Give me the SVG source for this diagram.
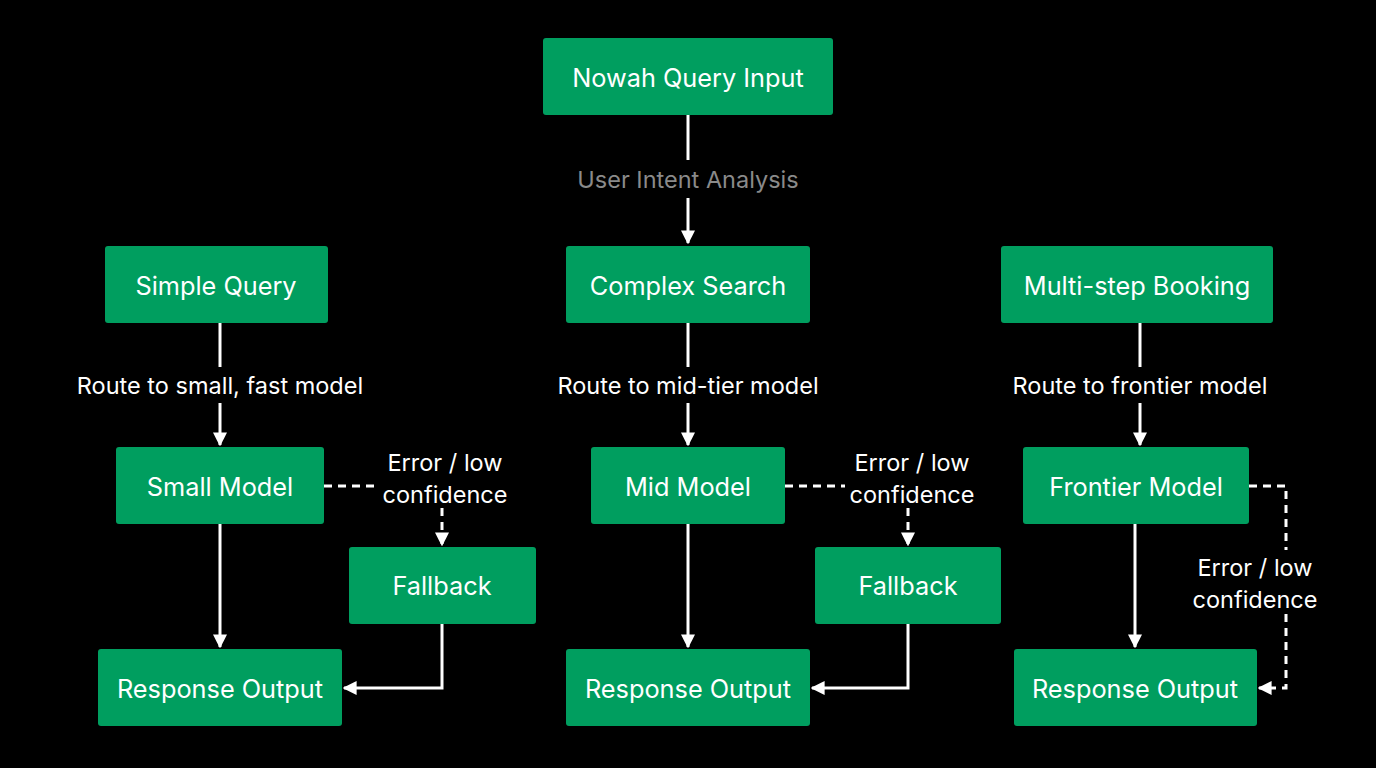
<svg xmlns="http://www.w3.org/2000/svg" width="1376" height="768" viewBox="0 0 1376 768">
<style>
.n{fill:#009e5f}
.t{font-family:Inter,"Noto Sans",sans-serif;font-size:23.5px;fill:#fff;text-anchor:middle;dominant-baseline:central}
.b{font-size:25.3px}
.g{fill:#8a8a8a}
.c{stroke:#fff;stroke-width:3;fill:none}
.d{stroke-dasharray:8 6}
</style>
<defs><marker id="a" viewBox="0 0 10 10" refX="9" refY="5" markerWidth="14" markerHeight="14" markerUnits="userSpaceOnUse" orient="auto"><path d="M0,0L10,5L0,10z" fill="#fff"/></marker></defs>
<rect width="1376" height="768" fill="#000"/>
<g id="connectors">
<path class="c" d="M688,115V160"/><path class="c" d="M688,198V243" marker-end="url(#a)"/>
<path class="c" d="M220,323V367"/><path class="c" d="M220,403V445" marker-end="url(#a)"/>
<path class="c" d="M688,323V367"/><path class="c" d="M688,403V445" marker-end="url(#a)"/>
<path class="c" d="M1140,323V367"/><path class="c" d="M1140,403V445" marker-end="url(#a)"/>
<path class="c" d="M220,524V647" marker-end="url(#a)"/>
<path class="c" d="M688,524V647" marker-end="url(#a)"/>
<path class="c" d="M1135,524V647" marker-end="url(#a)"/>
<path class="c d" d="M324,486H378"/><path class="c d" d="M442,508V545" marker-end="url(#a)"/>
<path class="c d" d="M785,486H845"/><path class="c d" d="M908,508V545" marker-end="url(#a)"/>
<path class="c" d="M442,624V688H344" marker-end="url(#a)"/>
<path class="c" d="M908,624V688H812" marker-end="url(#a)"/>
<path class="c d" d="M1249,486H1286V550"/><path class="c d" d="M1286,614V688H1259" marker-end="url(#a)"/>
<text class="t g" x="688" y="179">User Intent Analysis</text>
<text class="t" x="220" y="385">Route to small, fast model</text>
<text class="t" x="688" y="385">Route to mid-tier model</text>
<text class="t" x="1140" y="385">Route to frontier model</text>
<text class="t" x="445" y="462">Error / low</text><text class="t" x="445" y="494">confidence</text>
<text class="t" x="912" y="462">Error / low</text><text class="t" x="912" y="494">confidence</text>
<text class="t" x="1255" y="567">Error / low</text><text class="t" x="1255" y="599">confidence</text>
</g>
<g id="input"><rect class="n" x="543" y="38" width="290" height="77" rx="3"/><text class="t b" x="688" y="77">Nowah Query Input</text></g>
<g id="simple"><rect class="n" x="105" y="246" width="223" height="77" rx="3"/><text class="t b" x="216" y="285">Simple Query</text></g>
<g id="complex"><rect class="n" x="566" y="246" width="244" height="77" rx="3"/><text class="t b" x="688" y="285">Complex Search</text></g>
<g id="multi"><rect class="n" x="1001" y="246" width="272" height="77" rx="3"/><text class="t b" x="1137" y="285">Multi-step Booking</text></g>
<g id="small"><rect class="n" x="116" y="447" width="208" height="77" rx="3"/><text class="t b" x="220" y="486">Small Model</text></g>
<g id="mid"><rect class="n" x="591" y="447" width="194" height="77" rx="3"/><text class="t b" x="688" y="486">Mid Model</text></g>
<g id="frontier"><rect class="n" x="1023" y="447" width="226" height="77" rx="3"/><text class="t b" x="1136" y="486">Frontier Model</text></g>
<g id="fb1"><rect class="n" x="349" y="547" width="187" height="77" rx="3"/><text class="t b" x="442" y="585">Fallback</text></g>
<g id="fb2"><rect class="n" x="815" y="547" width="186" height="77" rx="3"/><text class="t b" x="908" y="585">Fallback</text></g>
<g id="out1"><rect class="n" x="98" y="649" width="244" height="77" rx="3"/><text class="t b" x="220" y="688">Response Output</text></g>
<g id="out2"><rect class="n" x="566" y="649" width="244" height="77" rx="3"/><text class="t b" x="688" y="688">Response Output</text></g>
<g id="out3"><rect class="n" x="1014" y="649" width="243" height="77" rx="3"/><text class="t b" x="1135" y="688">Response Output</text></g>
</svg>
